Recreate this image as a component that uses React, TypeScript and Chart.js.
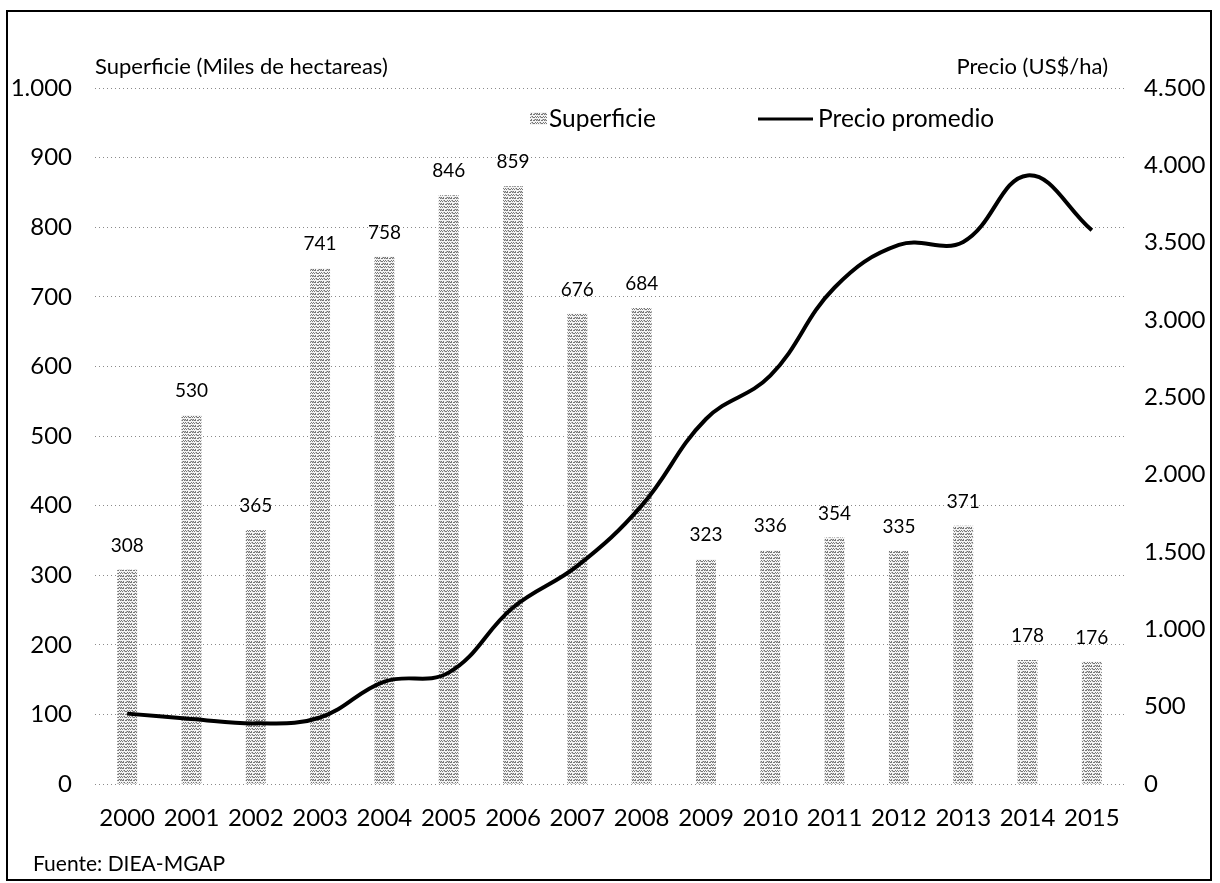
import React, { useEffect, useRef } from "react";
import { Chart, registerables } from "chart.js";

Chart.register(...registerables);

// Años de la serie
const years = [
  "2000", "2001", "2002", "2003", "2004", "2005", "2006", "2007",
  "2008", "2009", "2010", "2011", "2012", "2013", "2014", "2015",
];

// Superficie (miles de hectáreas)
const superficie = [308, 530, 365, 741, 758, 846, 859, 676, 684, 323, 336, 354, 335, 371, 178, 176];

// Precio promedio (US$/ha)
const precio = [455, 421, 392, 430, 662, 720, 1141, 1410, 1800, 2360, 2640, 3210, 3485, 3505, 3935, 3580];

const FONT = "Lato, 'Open Sans', sans-serif";

const fmt = (v: number) => String(v).replace(/\B(?=(\d{3})+(?!\d))/g, ".");

// Textura punteada gris para las barras
function makePattern(ctx: CanvasRenderingContext2D): CanvasPattern | string {
  const tile = document.createElement("canvas");
  tile.width = 8;
  tile.height = 6;
  const t = tile.getContext("2d");
  if (!t) return "#bbbbbb";
  t.fillStyle = "#f4f4f4";
  t.fillRect(0, 0, 8, 6);
  t.fillStyle = "#767676";
  const dots = [
    [0, 0], [2, 0], [3, 0], [5, 0], [6, 0],
    [1, 2], [4, 2], [7, 2],
    [0, 3], [2, 3], [5, 3], [6, 3],
    [3, 5], [7, 5], [1, 5],
  ];
  dots.forEach(([x, y]) => t.fillRect(x, y, 1, 1));
  t.fillStyle = "#b4b4b4";
  [[1, 0], [4, 3], [6, 5], [0, 5], [3, 2]].forEach(([x, y]) => t.fillRect(x, y, 1, 1));
  return ctx.createPattern(tile, "repeat") || "#bbbbbb";
}

export default function App() {
  const canvasRef = useRef<HTMLCanvasElement | null>(null);

  useEffect(() => {
    const canvas = canvasRef.current;
    if (!canvas) return;
    const ctx = canvas.getContext("2d");
    if (!ctx) return;
    const barFill = makePattern(ctx);

    const decorations = {
      id: "decorations",
      afterDatasetsDraw(chart: any) {
        const c = chart.ctx as CanvasRenderingContext2D;
        const meta = chart.getDatasetMeta(1);
        c.save();
        c.fillStyle = "#000";
        c.font = `19px ${FONT}`;
        c.textAlign = "center";
        c.textBaseline = "middle";
        meta.data.forEach((bar: any, i: number) => {
          c.fillText(String(superficie[i]), bar.x, bar.y - 24);
        });
        c.restore();
      },
      afterDraw(chart: any) {
        const c = chart.ctx as CanvasRenderingContext2D;
        c.save();
        c.fillStyle = "#000";
        c.textBaseline = "middle";

        // Títulos de ejes
        c.font = `22px ${FONT}`;
        c.textAlign = "left";
        c.fillText("Superficie (Miles de hectareas)", 95, 67);
        c.textAlign = "right";
        c.fillText("Precio (US$/ha)", 1108, 67);

        // Leyenda
        c.fillStyle = barFill as any;
        c.fillRect(530, 112, 17, 13);
        c.fillStyle = "#000";
        c.textAlign = "left";
        c.font = `24.5px ${FONT}`;
        c.fillText("Superficie", 549, 119);
        c.strokeStyle = "#000";
        c.lineWidth = 3;
        c.beginPath();
        c.moveTo(758, 119);
        c.lineTo(813, 119);
        c.stroke();
        c.fillText("Precio promedio", 818, 119);

        // Fuente
        c.font = `21px ${FONT}`;
        c.fillText("Fuente: DIEA-MGAP", 33, 864);

        // Marco
        c.strokeStyle = "#000";
        c.lineWidth = 2;
        c.strokeRect(7, 11, 1204, 869);
        c.restore();
      },
    };

    const chart = new Chart(ctx, {
      type: "bar",
      data: {
        labels: years,
        datasets: [
          {
            type: "line",
            label: "Precio promedio",
            data: precio,
            yAxisID: "y1",
            borderColor: "#000",
            borderWidth: 4,
            pointRadius: 0,
            tension: 0.4,
            fill: false,
            order: 0,
          } as any,
          {
            type: "bar",
            label: "Superficie",
            data: superficie,
            yAxisID: "y",
            backgroundColor: barFill as any,
            borderWidth: 0,
            barPercentage: 0.31,
            categoryPercentage: 1,
            order: 1,
          },
        ],
      },
      options: {
        responsive: false,
        animation: false,
        layout: { padding: { left: 4, right: 0, top: 88, bottom: 20 } },
        plugins: {
          legend: { display: false },
          tooltip: { enabled: false },
          title: { display: false },
        },
        scales: {
          x: {
            grid: { display: false, drawTicks: false },
            border: { display: false },
            ticks: {
              color: "#000",
              font: { family: FONT, size: 24 },
              padding: 20,
              maxRotation: 0,
              autoSkip: false,
            },
            afterFit(scale: any) {
              scale.height = 79;
            },
          },
          y: {
            position: "left",
            min: 0,
            max: 1000,
            grid: { color: "#8a8a8a", lineWidth: 1, drawTicks: false },
            border: { display: false, dash: [1, 3] },
            ticks: {
              stepSize: 100,
              color: "#000",
              font: { family: FONT, size: 24 },
              padding: 23,
              callback: (v: any) => fmt(Number(v)),
            },
            afterFit(scale: any) {
              scale.width = 91;
            },
          },
          y1: {
            position: "right",
            min: 0,
            max: 4500,
            grid: { drawOnChartArea: false, drawTicks: false },
            border: { display: false },
            ticks: {
              stepSize: 500,
              color: "#000",
              font: { family: FONT, size: 24 },
              padding: 20,
              callback: (v: any) => fmt(Number(v)),
            },
            afterFit(scale: any) {
              scale.width = 96;
            },
          },
        },
      },
      plugins: [decorations],
    });

    return () => chart.destroy();
  }, []);

  return (
    <div style={{ position: "absolute", left: 0, top: 0, width: 1220, height: 883, background: "#fff" }}>
      <canvas ref={canvasRef} width={1220} height={883} />
    </div>
  );
}
